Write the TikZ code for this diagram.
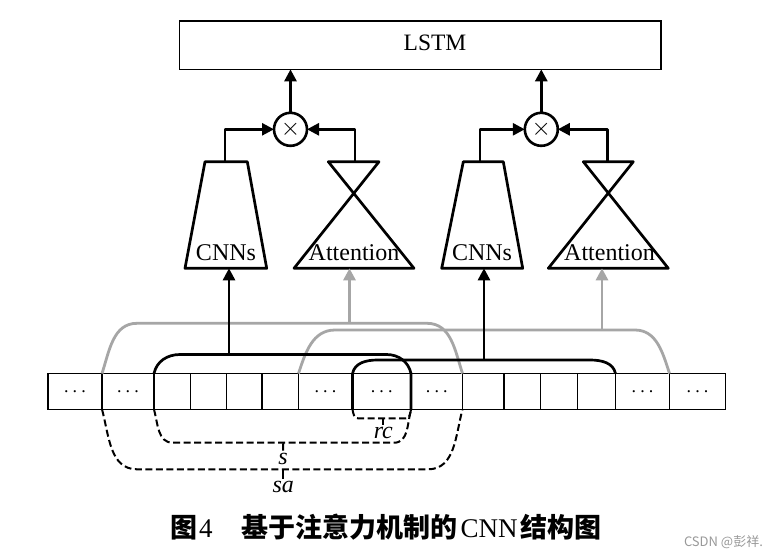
\documentclass[tikz,border=0pt]{standalone}
\usepackage{fontspec}
\setmainfont{Liberation Serif}
\newfontfamily\cjk{Noto Sans CJK SC}
\usetikzlibrary{arrows.meta}
\begin{document}
\begin{tikzpicture}[x=1pt,y=-1pt,
  every node/.style={outer sep=0pt},
  blk/.style={line width=2.7pt, line join=round},
  gry/.style={line width=2.8pt, draw=black!35},
  arr/.style={-{Triangle[length=12pt,width=12pt]}},
  dsh/.style={line width=2pt, dash pattern=on 7pt off 3.5pt},
  cellbox/.style={draw, line width=1.2pt, minimum height=35.8pt, inner sep=0pt},
  lbl/.style={font=\fontsize{24}{24}\selectfont\itshape, inner sep=0pt},
  big/.style={font=\fontsize{24}{24}\selectfont, inner sep=0pt, anchor=base}]
\fill[white] (0,0) rectangle (776,558);
\useasboundingbox (0,0) rectangle (776,558);
\def\dd{{\fontsize{18}{18}\selectfont .\hspace{4.2pt}.\hspace{4.2pt}.}}
\def\ee{}
% LSTM
\node[draw, line width=1.3pt, minimum width=481.7pt, minimum height=48.3pt, inner sep=0pt,
  label={[font=\fontsize{23.5}{23.5}\selectfont, xshift=15pt, yshift=2pt]center:LSTM}] (lstm) at (420,45.2) {};
% multipliers
\node[draw, circle, line width=2.6pt, minimum size=33pt, inner sep=0pt] (m1) at (290.5,129.3) {\fontsize{24}{24}\selectfont$\times$};
\node[draw, circle, line width=2.6pt, minimum size=33pt, inner sep=0pt] (m2) at (541.3,129.3) {\fontsize{24}{24}\selectfont$\times$};
% CNN blocks
\draw[blk] (205,161.7) -- (247.3,161.7) -- (266.7,268.3) -- (185,268.3) -- cycle;
\draw[blk] (463.3,161.7) -- (503.3,161.7) -- (522.7,268.3) -- (441.7,268.3) -- cycle;
\node[big] (cnn1) at (226,260) {CNNs};
\node[big] (cnn2) at (482,260) {CNNs};
% Attention blocks
\draw[blk] (328.3,161.7) -- (379,161.7) -- (294,268.3) -- (414,268.3) -- cycle;
\draw[blk] (583.3,161.7) -- (633.3,161.7) -- (548.3,268.3) -- (668.3,268.3) -- cycle;
\node[big] (att1) at (354,260) {Attention};
\node[big] (att2) at (609.5,260) {Attention};
% block ports
\coordinate (c1o) at (225,161.7);
\coordinate (a1o) at (355,161.7);
\coordinate (c2o) at (480,161.7);
\coordinate (a2o) at (607.7,161.7);
\coordinate (c1i) at (229,268.3);
\coordinate (a1i) at (349.5,268.3);
\coordinate (c2i) at (484,268.3);
\coordinate (a2i) at (602,268.3);
% upper connectors
\draw[blk,arr] (c1o) |- (m1.west);
\draw[blk,arr] (a1o) |- (m1.east);
\draw[blk,arr] (c2o) |- (m2.west);
\draw[blk,arr] (a2o) |- (m2.east);
\draw[blk,arr] (m1.north) -- (lstm.south -| m1.north);
\draw[blk,arr] (m2.north) -- (lstm.south -| m2.north);
% cells
\foreach \a/\b/\t [count=\i] in {48/102/\dd, 102/154/\dd, 154/190.8/\ee, 190.8/226.5/\ee,
  226.5/262/\ee, 262/298.5/\ee, 298.5/352.5/\dd, 352.5/411/\dd, 411/462.5/\dd,
  462.5/504/\ee, 504/540.7/\ee, 540.7/577.5/\ee, 577.5/615.5/\ee, 615.5/669.5/\dd, 669.5/725.5/\dd}
  \node[cellbox, minimum width={(\b-\a)*1pt}] (cell\i) at ({(\a+\b)/2},391.4) {\t};
% gray brackets
\coordinate (g1) at (349.5,323.3);
\coordinate (g2) at (602,330);
\draw[gry] (cell2.north west) to[out=72,in=180] (137,323.3) -- (427,323.3) to[out=0,in=108] (cell9.north east);
\draw[gry] (cell7.north west) to[out=72,in=180] (335,330) -- (635,330) to[out=0,in=108] (cell14.north east);
\draw[gry,arr] (g1) -- (a1i);
\draw[gry,arr] (g2) -- (a2i);
% black brackets
\coordinate (b1) at (229,354.5);
\coordinate (b2) at (484,360);
\draw[blk] (cell3.north west) to[out=78,in=180] (180,354.5) -- (386.5,354.5) to[out=0,in=102] (cell8.north east) -- (cell8.south east);
\draw[blk] (cell8.south west) -- (cell8.north west) to[out=78,in=180] (377.6,360) -- (590,360) to[out=0,in=102] (cell13.north east);
\draw[blk,arr] (b1) -- (c1i);
\draw[blk,arr] (b2) -- (c2i);
% dashed ranges
\draw[dsh] (cell8.south west) to[out=-80,in=180] (358,418.3) -- (406,418.3) to[out=0,in=-100] (cell8.south east);
\draw[dsh] (cell3.south west) to[out=-75,in=180] (172.7,442.7) -- (394,442.7) to[out=0,in=-105] (cell8.south east);
\draw[dsh] (cell2.south west) to[out=-75,in=180] (137,469.3) -- (428,469.3) to[out=0,in=-105] (cell9.south east);
\node[lbl] (rc) at (383.3,433.3) {rc};
\node[lbl] (s) at (283,459.3) {s};
\node[lbl] (sa) at (283.3,487.3) {sa};
\draw[line width=2pt] (383.3,418.3) -- ([yshift=3pt]rc.north);
\draw[line width=2pt] (283.3,442.7) -- ([yshift=3pt]s.north);
\draw[line width=2pt] (283.3,469.3) -- ([yshift=3pt]sa.north);
% caption
\node[anchor=west, inner sep=0pt, font=\fontsize{27}{27}\selectfont] (cap) at (170.5,527)
  {{\cjk\bfseries 图}\hspace{1.5pt}4\hspace{29pt}{\cjk\bfseries 基于注意力机制的}\hspace{3pt}CNN\hspace{3pt}{\cjk\bfseries 结构图}};
\node[anchor=west, inner sep=0pt, text=black!40, font=\cjk\fontsize{13}{13}\selectfont] (wm) at (684,541.7) {CSDN @彭祥.};
\end{tikzpicture}
\end{document}
